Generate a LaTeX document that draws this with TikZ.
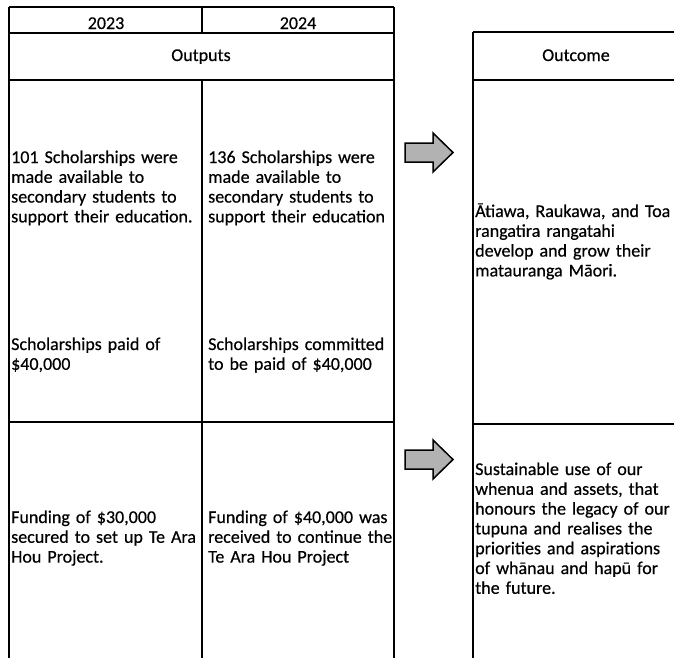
\documentclass[tikz,border=0pt]{standalone}
\usepackage{fontspec}
\setmainfont{Carlito}[FakeBold=0.5]
\begin{document}
\begin{tikzpicture}[x=1pt,y=-1pt,
  grid/.style={line width=1.8pt,black},
  celltext/.style={anchor=base west,inner sep=0pt,align=left,text width=260pt,
    font=\fontsize{18}{19.8}\selectfont},
  headtext/.style={anchor=base,inner sep=0pt,font=\fontsize{18}{19.8}\selectfont},
  blockarrow/.style={draw=black,line width=1.5pt,fill=black!30,line join=miter}]
\useasboundingbox (0,0) rectangle (674,657);
% left table
\draw[grid] (9,7) -- (394,7);
\draw[grid] (9,33) -- (394,33);
\draw[grid] (9,80) -- (394,80);
\draw[grid] (9,422) -- (394,422);
\draw[grid] (9,7) -- (9,662);
\draw[grid] (394,7) -- (394,662);
\draw[grid] (202,7) -- (202,33);
\draw[grid] (202,80) -- (202,662);
% right table
\draw[grid] (473,32) -- (680,32);
\draw[grid] (473,80) -- (680,80);
\draw[grid] (473,424) -- (680,424);
\draw[grid] (473,32) -- (473,662);
% headers
\node[headtext] (y23) at (106,29) {2023};
\node[headtext] (y24) at (298,29) {2024};
\node[headtext] (outputs) at (201,61) {Outputs};
\node[headtext] (outcome) at (576,61) {Outcome};
% left column texts
\node[celltext] (a1) at (11,163) {101 Scholarships were\\made available to\\secondary students to\\support their education.};
\node[celltext] (a2) at (11,350) {Scholarships paid of\\\$40,000};
\node[celltext] (a3) at (11,523) {Funding of \$30,000\\secured to set up Te Ara\\Hou Project.};
% middle column texts
\node[celltext] (b1) at (208,163) {136 Scholarships were\\made available to\\secondary students to\\support their education};
\node[celltext] (b2) at (208,350) {Scholarships committed\\to be paid of \$40,000};
\node[celltext] (b3) at (208,523) {Funding of \$40,000 was\\received to continue the\\Te Ara Hou Project};
% right column texts
\node[celltext] (c1) at (475,217) {Ātiawa, Raukawa, and Toa\\rangatira rangatahi\\develop and grow their\\matauranga Māori.};
\node[celltext] (c2) at (475,475) {Sustainable use of our\\whenua and assets, that\\honours the legacy of our\\tupuna and realises the\\priorities and aspirations\\of whānau and hapū for\\the future.};
% block arrows
\draw[blockarrow] (405,143) -- (433,143) -- (433,133) -- (453,152.5) -- (433,172) -- (433,162) -- (405,162) -- cycle;
\draw[blockarrow] (405,450) -- (433,450) -- (433,440) -- (453,459.5) -- (433,479) -- (433,469) -- (405,469) -- cycle;
\end{tikzpicture}
\end{document}
